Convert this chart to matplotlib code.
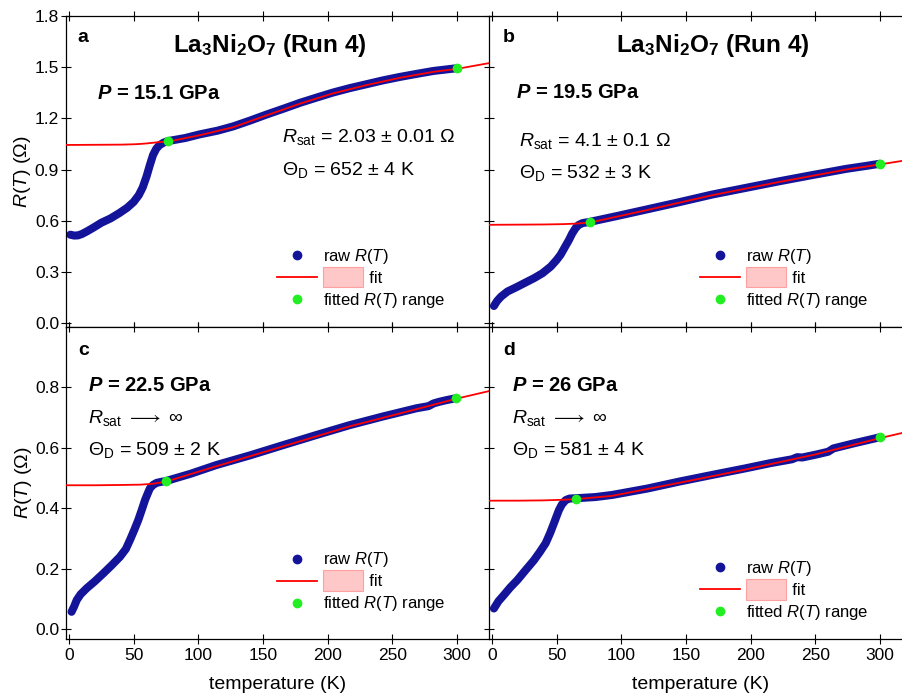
import matplotlib
matplotlib.use("Agg")
import matplotlib.pyplot as plt
from matplotlib.lines import Line2D
from matplotlib.patches import Rectangle
from matplotlib.legend_handler import HandlerBase

plt.rcParams['font.family'] = ['Liberation Sans', 'DejaVu Sans']
plt.rcParams['mathtext.fontset'] = 'custom'
plt.rcParams['mathtext.rm'] = 'Liberation Sans'
plt.rcParams['mathtext.it'] = 'Liberation Sans:italic'
plt.rcParams['mathtext.bf'] = 'Liberation Sans:bold'
plt.rcParams['mathtext.bfit'] = 'Liberation Sans:italic:bold'
plt.rcParams['mathtext.fallback'] = 'stixsans'

### DATA ###
# panel a, P = 15.1 GPa
T_a = [1, 4, 7, 10, 14, 19, 25, 32, 39, 45, 50, 54, 57, 60, 62.5, 65, 67.5, 70, 73, 76,
       90, 101, 115, 127, 140, 153, 166, 179, 192, 204, 217, 230, 243, 256, 269, 282, 291, 300]
R_a = [0.518, 0.513, 0.514, 0.522, 0.538, 0.56, 0.588, 0.613, 0.645, 0.676, 0.71, 0.75, 0.795,
       0.86, 0.925, 0.985, 1.022, 1.043, 1.057, 1.066, 1.085, 1.106, 1.128, 1.153, 1.187, 1.223,
       1.257, 1.292, 1.323, 1.351, 1.377, 1.40, 1.423, 1.443, 1.461, 1.478, 1.486, 1.494]
Tfit_a = [-3, 20, 40, 50, 55, 60, 65, 70, 76, 101, 127, 153, 179, 204, 230, 256, 282, 300, 325]
Rfit_a = [1.044, 1.045, 1.046, 1.048, 1.050, 1.053, 1.057, 1.061, 1.063, 1.101, 1.148, 1.218,
          1.287, 1.346, 1.395, 1.438, 1.473, 1.490, 1.524]
Trng_a = [76.5, 299.8]
Rrng_a = [1.066, 1.493]

# panel b, P = 19.5 GPa
T_b = [1.5, 4, 7, 12, 19.6, 26, 32.5, 39, 45.4, 50, 53, 56, 59.6, 62, 64.7, 67, 70, 73, 75.5,
       97, 119, 145, 170, 196, 222, 248, 274, 290, 300]
R_b = [0.10, 0.13, 0.155, 0.185, 0.213, 0.238, 0.263, 0.292, 0.331, 0.37, 0.40, 0.44, 0.488,
       0.525, 0.557, 0.575, 0.586, 0.59, 0.593, 0.628, 0.665, 0.709, 0.753, 0.792, 0.831,
       0.868, 0.904, 0.922, 0.934]
Tfit_b = [-3, 20, 40, 55, 65, 70, 75.5, 119, 170, 222, 274, 300, 325]
Rfit_b = [0.576, 0.577, 0.578, 0.580, 0.583, 0.586, 0.589, 0.661, 0.749, 0.827, 0.900, 0.930, 0.960]
Trng_b = [75.5, 299.7]
Rrng_b = [0.593, 0.934]

# panel c, P = 22.5 GPa
T_c = [2, 4, 6, 9, 13.7, 20, 26.5, 33, 39.4, 44, 47.2, 50.5, 53.6, 56.5, 58.8, 61, 62.6, 65,
       67.8, 71, 75, 94, 114, 140, 165.7, 191, 217, 243, 268.8, 278, 282, 286, 292, 299]
R_c = [0.057, 0.075, 0.096, 0.115, 0.135, 0.158, 0.184, 0.211, 0.239, 0.265, 0.295, 0.328,
       0.361, 0.397, 0.427, 0.45, 0.466, 0.477, 0.484, 0.487, 0.49, 0.514, 0.543, 0.575, 0.609,
       0.642, 0.675, 0.704, 0.731, 0.738, 0.747, 0.752, 0.758, 0.764]
Tfit_c = [-3, 20, 40, 55, 65, 75, 114, 165.7, 217, 268.8, 299, 325]
Rfit_c = [0.476, 0.476, 0.477, 0.478, 0.481, 0.488, 0.539, 0.605, 0.671, 0.728, 0.762, 0.788]
Trng_c = [75, 299.2]
Rrng_c = [0.49, 0.764]

# panel d, P = 26 GPa
T_d = [1.5, 5, 9.3, 14, 19.6, 26, 32.5, 37, 41.5, 45, 47.9, 50, 51.8, 54, 57, 60, 64.7, 80, 93,
       120, 144.6, 170, 196, 215, 232, 236, 240, 250, 260, 264, 280, 300]
R_d = [0.068, 0.092, 0.113, 0.137, 0.162, 0.195, 0.228, 0.255, 0.284, 0.318, 0.35, 0.374,
       0.394, 0.412, 0.427, 0.432, 0.433, 0.437, 0.444, 0.465, 0.488, 0.51, 0.532, 0.549,
       0.562, 0.569, 0.568, 0.577, 0.587, 0.598, 0.615, 0.635]
Tfit_d = [-3, 20, 40, 55, 64.7, 93, 144.6, 196, 250, 300, 325]
Rfit_d = [0.425, 0.425, 0.426, 0.428, 0.430, 0.441, 0.484, 0.528, 0.578, 0.632, 0.657]
Trng_d = [64.7, 300]
Rrng_d = [0.432, 0.635]

letters = ['a', 'b', 'c', 'd']
pressures = ['15.1', '19.5', '22.5', '26']
rsat_labels = [r'$R_{\rm sat}$ = 2.03 ± 0.01 Ω', r'$R_{\rm sat}$ = 4.1 ± 0.1 Ω',
               r'$R_{\rm sat}$ $\longrightarrow$ ∞', r'$R_{\rm sat}$ $\longrightarrow$ ∞']
theta_labels = [r'$\Theta_{\rm D}$ = 652 ± 4 K', r'$\Theta_{\rm D}$ = 532 ± 3 K',
                r'$\Theta_{\rm D}$ = 509 ± 2 K', r'$\Theta_{\rm D}$ = 581 ± 4 K']
title = r'$\mathbf{La_3Ni_2O_7}$ (Run 4)'

raw_T = [T_a, T_b, T_c, T_d]
raw_R = [R_a, R_b, R_c, R_d]
fit_T = [Tfit_a, Tfit_b, Tfit_c, Tfit_d]
fit_R = [Rfit_a, Rfit_b, Rfit_c, Rfit_d]
rng_T = [Trng_a, Trng_b, Trng_c, Trng_d]
rng_R = [Rrng_a, Rrng_b, Rrng_c, Rrng_d]

NAVY = '#14149a'
RED = '#ff0000'
GREEN = '#22ee22'


class HandlerFit(HandlerBase):
    # red line in the handle box, pink band box just right of it (Origin style)
    def create_artists(self, legend, orig_handle, xdescent, ydescent, width, height, fontsize, trans):
        y0 = height / 2 - ydescent
        line = Line2D([-xdescent, width - xdescent], [y0, y0], color=RED, lw=1.3)
        pad = legend.handletextpad * fontsize
        h = 1.75 * height
        rect = Rectangle((width - xdescent + pad, y0 - h / 2), width, h,
                         facecolor='#ffc8c8', edgecolor='#ffa0a0', lw=0.8)
        line.set_transform(trans)
        rect.set_transform(trans)
        return [line, rect]


fig = plt.figure(figsize=(9.02, 6.97), dpi=100)
W, H = 902.0, 697.0
boxes = [(66, 16, 423, 311), (489, 16, 423, 311), (66, 327, 423, 312), (489, 327, 423, 312)]

# text positions (axes fraction)
letter_xy = [(0.028, 0.931), (0.032, 0.931), (0.028, 0.926), (0.033, 0.926)]
title_xy = [(0.482, 0.905), (0.53, 0.905)]
p_xy = [(0.073, 0.75), (0.065, 0.753), (0.053, 0.814), (0.055, 0.814)]
rsat_xy = [(0.51, 0.611), (0.072, 0.597), (0.053, 0.709), (0.055, 0.709)]
theta_xy = [(0.51, 0.505), (0.072, 0.494), (0.053, 0.606), (0.055, 0.606)]
leg_anchor = [(0.499, 0.258), (0.499, 0.258), (0.499, 0.284), (0.499, 0.256)]

for i in range(4):
    l, t, w, h = boxes[i]
    ax = fig.add_axes([l / W, 1 - (t + h) / H, w / W, h / H])
    ax.plot(raw_T[i], raw_R[i], '-', color=NAVY, lw=5.8,
            solid_capstyle='round', solid_joinstyle='round', zorder=2)
    ax.plot(fit_T[i], fit_R[i], '-', color=RED, lw=1.3, zorder=3)
    ax.plot(rng_T[i], rng_R[i], 'o', color=GREEN, ms=6, mec=GREEN, zorder=4)

    ax.set_xlim(-2.3, 324.8)
    if i < 2:
        ax.set_ylim(-0.023, 1.8)
        ax.set_yticks([0.0, 0.3, 0.6, 0.9, 1.2, 1.5, 1.8])
    else:
        ax.set_ylim(-0.033, 1.0)
        ax.set_yticks([0.0, 0.2, 0.4, 0.6, 0.8])
    ax.set_xticks([0, 50, 100, 150, 200, 250, 300])
    ax.yaxis.set_major_formatter(plt.FormatStrFormatter('%.1f'))
    ax.tick_params(axis='both', which='both', labelsize=12.5, width=0.8)
    ax.tick_params(axis='x', bottom=True, top=True, direction='inout', length=7, pad=3)
    ax.tick_params(axis='y', left=True, right=False, direction='inout', length=7, pad=1.5)
    for sp in ax.spines.values():
        sp.set_linewidth(0.9)
    ax.spines['right'].set_visible(False)
    if i % 2 == 1:
        ax.tick_params(axis='y', labelleft=False)
    else:
        ax.set_ylabel(r'$R$($T$) (Ω)', fontsize=14, labelpad=1)
    if i < 2:
        ax.tick_params(axis='x', labelbottom=False)
    else:
        ax.set_xlabel('temperature (K)', fontsize=14, labelpad=9.5)

    ax.text(*letter_xy[i], letters[i], transform=ax.transAxes, fontsize=14,
            fontweight='bold', va='center', ha='left')
    if i < 2:
        ax.text(*title_xy[i], title, transform=ax.transAxes, fontsize=17.5,
                fontweight='bold', va='center', ha='center')
    ax.text(*p_xy[i], r'$\mathbfit{P}$ = ' + pressures[i] + ' GPa', transform=ax.transAxes,
            fontsize=14.5, fontweight='bold', va='center', ha='left')
    ax.text(*rsat_xy[i], rsat_labels[i], transform=ax.transAxes, fontsize=14,
            va='center', ha='left')
    ax.text(*theta_xy[i], theta_labels[i], transform=ax.transAxes, fontsize=14,
            va='center', ha='left')

    h_raw = Line2D([], [], ls='none', marker='o', color=NAVY, ms=6)
    h_fit = Line2D([], [], color=RED)
    h_rng = Line2D([], [], ls='none', marker='o', color=GREEN, ms=6)
    ax.legend([h_raw, h_fit, h_rng],
              [r'raw $R$($T$)', '          fit', r'fitted $R$($T$) range'],
              handler_map={h_fit: HandlerFit()}, loc='upper left',
              bbox_to_anchor=leg_anchor[i], frameon=False, fontsize=12,
              handlelength=2.4, handletextpad=0.35, labelspacing=0.3,
              borderaxespad=0, borderpad=0)

fig.savefig('out.png', dpi=100)
